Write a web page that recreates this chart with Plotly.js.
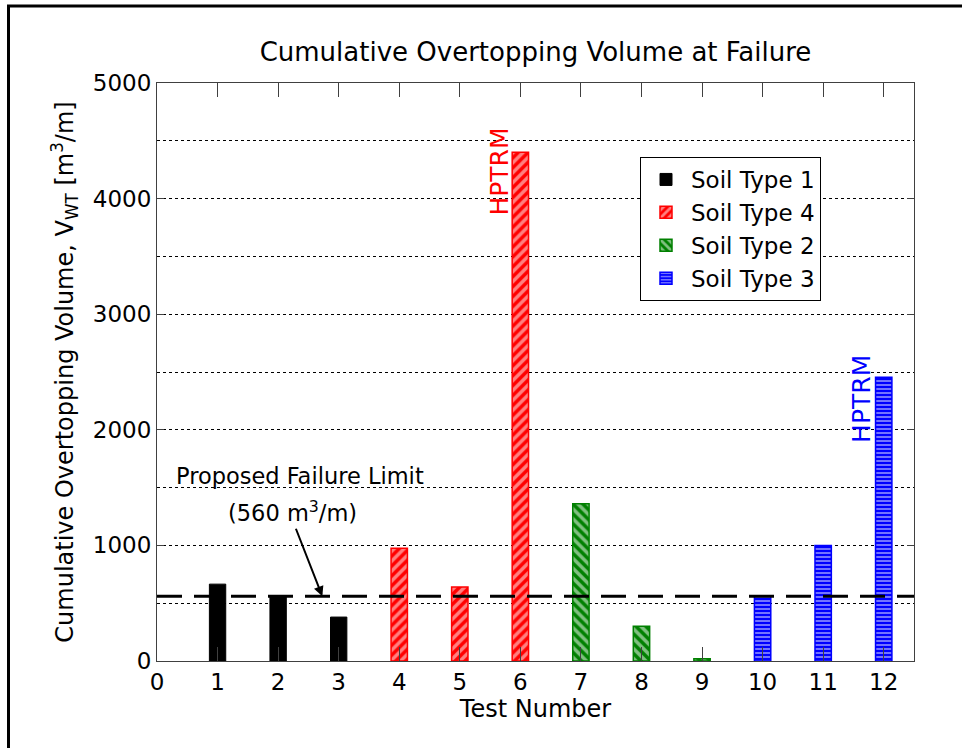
<!DOCTYPE html>
<html>
<head>
<meta charset="utf-8">
<script src="https://cdn.plot.ly/plotly-3.0.1.min.js"></script>
<style>
html,body{margin:0;padding:0;background:#fff;}
#chart{width:962px;height:748px;}
</style>
</head>
<body>
<div id="chart"></div>
<script>
// ---- data ----
const soil1Tests = [1, 2, 3];
const soil1Values = [665, 565, 380];
const soil4Tests = [4, 5, 6];
const soil4Values = [975, 640, 4400];
const soil2Tests = [7, 8, 9];
const soil2Values = [1360, 300, 20];
const soil3Tests = [10, 11, 12];
const soil3Values = [560, 1000, 2455];
const failureLimit = 560;
const xTickValues = [0,1,2,3,4,5,6,7,8,9,10,11,12];
const xTickLabels = ["0","1","2","3","4","5","6","7","8","9","10","11","12"];
const seriesNames = ["Soil Type 1", "Soil Type 4", "Soil Type 2", "Soil Type 3"];

const FONT = "DejaVu Sans, Liberation Sans, Arial, sans-serif";
const BW = 0.27;

const traces = [
  {type:'bar', name:seriesNames[0], x:soil1Tests, y:soil1Values, width:BW,
   marker:{color:'#000000', line:{color:'#000000', width:1}}},
  {type:'bar', name:seriesNames[1], x:soil4Tests, y:soil4Values, width:BW,
   marker:{color:'#ff0000', line:{color:'#ff0000', width:1.5},
     pattern:{shape:'/', fgcolor:'#ffffff', bgcolor:'#ff0000', fillmode:'overlay', size:7, solidity:0.5}}},
  {type:'bar', name:seriesNames[2], x:soil2Tests, y:soil2Values, width:BW,
   marker:{color:'#008000', line:{color:'#008000', width:1.5},
     pattern:{shape:'\\', fgcolor:'#ffffff', bgcolor:'#008000', fillmode:'overlay', size:7, solidity:0.5}}},
  {type:'bar', name:seriesNames[3], x:soil3Tests, y:soil3Values, width:BW,
   marker:{color:'#0000ff', line:{color:'#0000ff', width:1.5},
     pattern:{shape:'-', fgcolor:'#ffffff', bgcolor:'#0000ff', fillmode:'overlay', size:4, solidity:0.45}}},
  {type:'scatter', mode:'lines', x:[0, 12.5], y:[failureLimit, failureLimit], showlegend:false,
   hoverinfo:'skip', line:{color:'#000000', width:3, dash:'25px,12px'}}
];

const layout = {
  width:962, height:748,
  paper_bgcolor:'#ffffff', plot_bgcolor:'#ffffff',
  margin:{l:157, r:48, t:83, b:87, pad:0},
  font:{family:FONT, size:23, color:'#000'},
  barmode:'overlay',
  showlegend:true,
  title:{text:'Cumulative Overtopping Volume at Failure', x:0.5, xref:'paper', xanchor:'center',
         y:1-52/748, yref:'container', yanchor:'middle', font:{family:FONT, size:26, color:'#000'}},
  xaxis:{range:[0, 12.5], tickmode:'array', tickvals:xTickValues, ticktext:xTickLabels,
         ticks:'inside', ticklen:14, tickcolor:'#404040', tickwidth:1,
         showline:true, linecolor:'#404040', linewidth:1, mirror:'ticks',
         showgrid:false, zeroline:false,
         tickfont:{family:FONT, size:23, color:'#000'},
         title:{text:'Test Number', standoff:6, font:{family:FONT, size:24, color:'#000'}}},
  yaxis:{range:[0, 5000], tickmode:'linear', tick0:0, dtick:1000,
         ticks:'inside', ticklen:7, tickcolor:'#404040', tickwidth:1,
         showline:true, linecolor:'#404040', linewidth:1, mirror:'ticks',
         showgrid:true, gridcolor:'#000000', gridwidth:1, griddash:'dot',
         minor:{dtick:500, showgrid:true, gridcolor:'#000000', gridwidth:1, griddash:'dot', ticks:''},
         zeroline:false,
         tickfont:{family:FONT, size:23, color:'#000'},
         title:{text:'Cumulative Overtopping Volume, V<sub>WT</sub> [m<sup>3</sup>/m]', standoff:12,
                font:{family:FONT, size:24, color:'#000'}}},
  legend:{x:(640-157)/757, y:(661-157)/578, xanchor:'left', yanchor:'top',
          bgcolor:'#ffffff', bordercolor:'#000000', borderwidth:1,
          font:{family:FONT, size:23, color:'#000'}, tracegroupgap:0, itemwidth:40},
  annotations:[
    {x:5.64, y:4230, xref:'x', yref:'y', text:'HPTRM', showarrow:false, textangle:-90,
     font:{family:FONT, size:25, color:'#ff0000'}},
    {x:11.62, y:2265, xref:'x', yref:'y', text:'HPTRM', showarrow:false, textangle:-90,
     font:{family:FONT, size:25, color:'#0000ff'}},
    {x:2.36, y:1603, xref:'x', yref:'y', text:'Proposed Failure Limit', showarrow:false,
     font:{family:FONT, size:22.5, color:'#000'}},
    {x:2.23, y:1290, xref:'x', yref:'y', text:'(560 m<sup>3</sup>/m)', showarrow:false,
     font:{family:FONT, size:22.5, color:'#000'}},
    {x:2.73, y:failureLimit, xref:'x', yref:'y', text:'', showarrow:true, arrowhead:2, arrowsize:1,
     arrowwidth:2, arrowcolor:'#000', ax:-27, ay:-69, standoff:0}
  ],
  shapes:[
    {type:'rect', xref:'paper', yref:'paper', x0:(8.5-157)/757, x1:1.2, y0:-0.3, y1:(661-6)/578,
     line:{color:'#000', width:3}, fillcolor:'rgba(0,0,0,0)', layer:'above'}
  ]
};

Plotly.newPlot('chart', traces, layout, {displayModeBar:false, staticPlot:true});
</script>
</body>
</html>
